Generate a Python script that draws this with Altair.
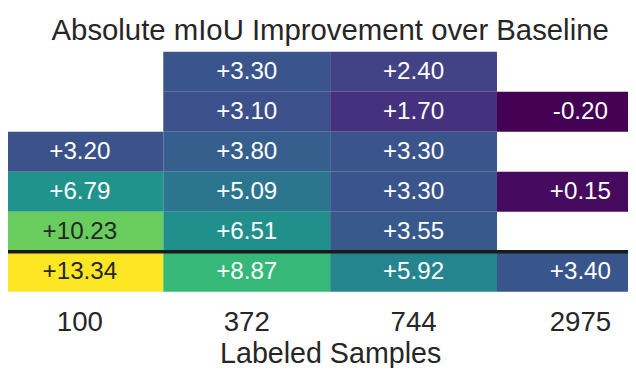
import altair as alt
import pandas as pd

samples = ["100", "372", "744", "2975"]
rows = ["r1", "r2", "r3", "r4", "r5", "r6"]
row1 = [None, 3.30, 2.40, None]
row2 = [None, 3.10, 1.70, -0.20]
row3 = [3.20, 3.80, 3.30, None]
row4 = [6.79, 5.09, 3.30, 0.15]
row5 = [10.23, 6.51, 3.55, None]
row6 = [13.34, 8.87, 5.92, 3.40]
separator_row = ["r6"]

records = []
for r, vals in zip(rows, [row1, row2, row3, row4, row5, row6]):
    for s, v in zip(samples, vals):
        if v is not None:
            records.append({"row": r, "samples": s, "value": v, "label": f"{v:+.2f}"})
df = pd.DataFrame(records)
rule_df = pd.DataFrame({"row": separator_row})

FONT = "Liberation Sans"
TXT = "#262626"

xenc = alt.X(
    "samples:O",
    sort=samples,
    scale=alt.Scale(paddingInner=0, paddingOuter=0),
    axis=alt.Axis(
        title="Labeled Samples",
        labelAngle=0,
        ticks=False,
        tickSize=0,
        domain=False,
        labelFontSize=28,
        labelFont=FONT,
        labelColor=TXT,
        labelPadding=17,
        titleFontSize=29,
        titleFont=FONT,
        titleColor=TXT,
        titleFontWeight="normal",
        titlePadding=4,
    ),
)
yenc = alt.Y("row:O", sort=rows, scale=alt.Scale(paddingInner=0, paddingOuter=0), axis=None)

base = alt.Chart(df)
rect = base.mark_rect().encode(
    x=xenc,
    y=yenc,
    color=alt.Color("value:Q", scale=alt.Scale(scheme="viridis", domain=[-0.2, 13.34]), legend=None),
)
text = base.mark_text(fontSize=24.5, font=FONT).encode(
    x=xenc,
    y=yenc,
    text="label:N",
    color=alt.condition("datum.value > 9.5", alt.value(TXT), alt.value("white")),
)
rule = alt.Chart(rule_df).mark_rule(color="#1a1a1a", strokeWidth=3.5).encode(
    y=alt.Y("row:O", sort=rows, bandPosition=0, axis=None)
)

chart = alt.layer(rect, text, rule).properties(
    width=676,
    height=243,
    title=alt.TitleParams(
        text="Absolute mIoU Improvement over Baseline",
        fontSize=29.7,
        font=FONT,
        fontWeight="normal",
        color=TXT,
        anchor="middle",
        frame="group",
        baseline="alphabetic",
        offset=0,
        dy=18,
    ),
    padding={"left": -11.7, "top": 42, "right": -36.3, "bottom": 75},
    autosize=alt.AutoSizeParams(type="none"),
).configure_view(stroke=None)

chart.save("out.html", embed_options={"renderer": "svg", "actions": False})
